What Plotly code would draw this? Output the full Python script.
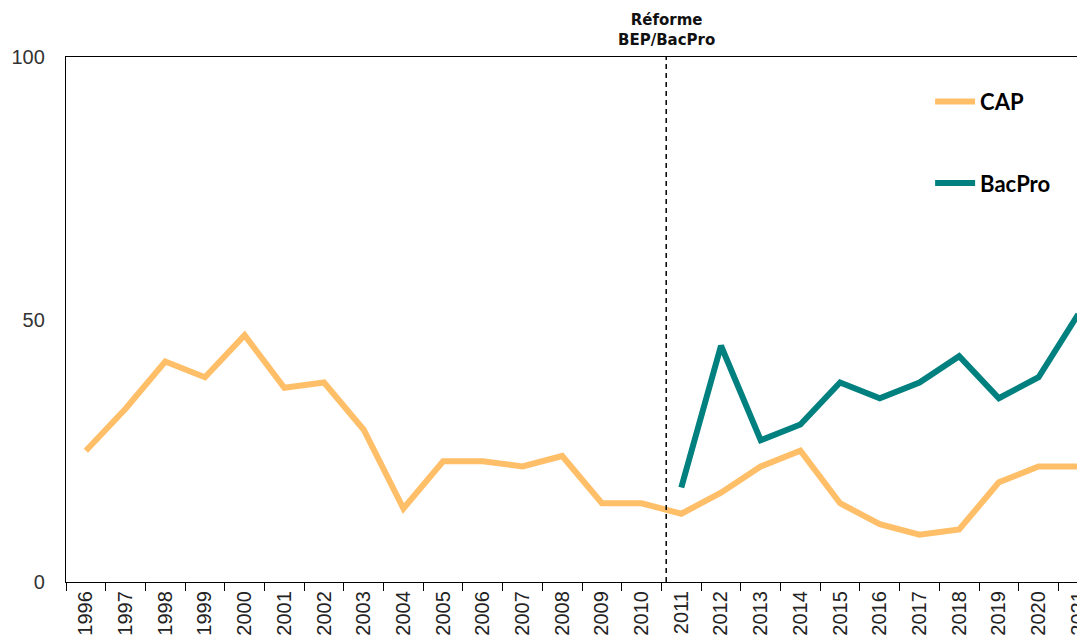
import plotly.graph_objects as go

years = [str(y) for y in range(1996, 2022)]
cap = [25, 33, 42, 39, 47, 37, 38, 29, 14, 23, 23, 22, 24, 15, 15,
       13, 17, 22, 25, 15, 11, 9, 10, 19, 22, 22]
bacpro_years = [str(y) for y in range(2011, 2022)]
bacpro = [18, 45, 27, 30, 38, 35, 38, 43, 35, 39, 51]

fig = go.Figure()
fig.add_trace(go.Scatter(x=years, y=cap, mode="lines", name="<b>CAP</b>",
                         legendgroup="a",
                         line=dict(color="#FFBF69", width=6)))
fig.add_trace(go.Scatter(x=bacpro_years, y=bacpro, mode="lines", name="<b>BacPro</b>",
                         legendgroup="b",
                         line=dict(color="#00807E", width=6)))

# reform marker between 2010 and 2011
fig.add_shape(type="line", x0=14.62, x1=14.62, y0=0, y1=100,
              xref="x", yref="y", line=dict(color="black", width=1.5, dash="5px,4px"))
fig.add_annotation(x=14.62, y=1.0, xref="x", yref="paper", yanchor="bottom",
                   yshift=6, showarrow=False, align="center",
                   text="<b>Réforme<br>BEP/BacPro</b>",
                   font=dict(family="DejaVu Sans", size=15, color="#111"))

fig.update_xaxes(type="category", range=[-0.5, 25.17], tickson="boundaries",
                 ticks="outside", ticklen=8, tickcolor="black", tickangle=-90,
                 showline=True, linecolor="black", linewidth=1.3, mirror=True,
                 showgrid=False, automargin=False,
                 tickfont=dict(family="Liberation Sans", size=20, color="#222"))
fig.update_yaxes(range=[0, 100], tickvals=[0, 50, 100], showgrid=False,
                 zeroline=False, showline=True, linecolor="black", linewidth=1.3,
                 ticks="", ticklabelstandoff=16, automargin=False,
                 tickfont=dict(family="Liberation Sans", size=20, color="#333"))

# page body adds an 8px offset, so margins are trimmed to compensate
fig.update_layout(
    width=1085, height=642,
    margin=dict(l=58, r=8, t=49, b=68),
    plot_bgcolor="white", paper_bgcolor="white",
    legend=dict(x=0.848, y=0.955, xanchor="left", yanchor="top",
                tracegroupgap=50, itemwidth=40,
                font=dict(family="Lato", size=22, color="black"),
                bgcolor="rgba(0,0,0,0)"),
)

fig.write_html("out.html")
